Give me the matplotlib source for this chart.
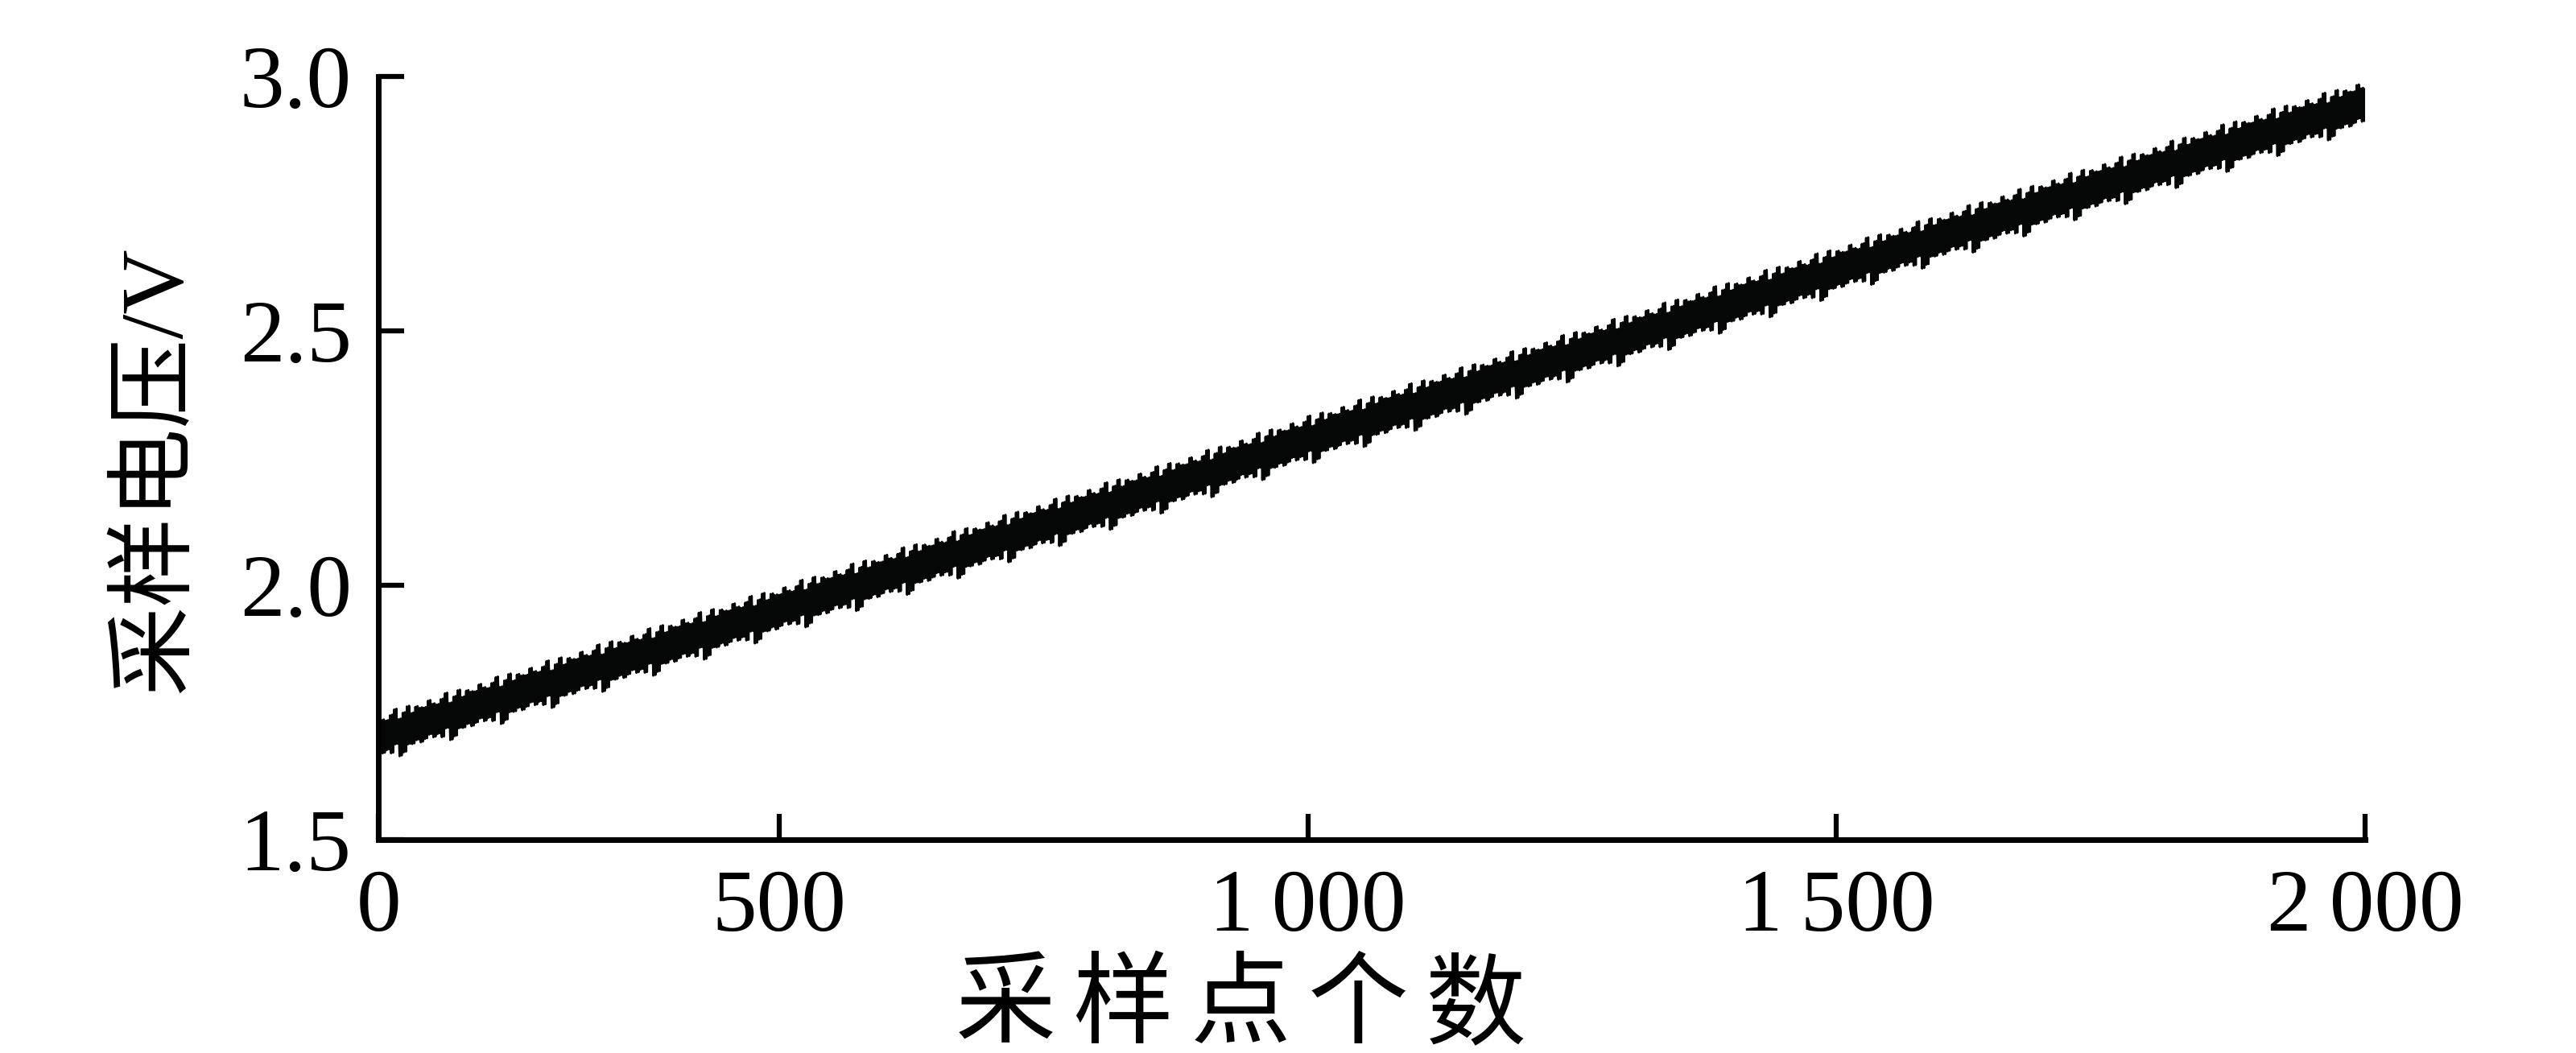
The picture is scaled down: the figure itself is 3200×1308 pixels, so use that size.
import numpy as np
import matplotlib
matplotlib.use("Agg")
import matplotlib.pyplot as plt

#==========================================================================================
#     采样电压 vs 采样点个数 (noisy ramp, ~1.7 V -> ~2.95 V)
#==========================================================================================

plt.rcParams['font.family'] = ['Liberation Serif', 'Noto Sans CJK SC', 'DejaVu Sans']

# band centre at a few sample indices
center_x = [121, 300, 500, 700, 900, 1000, 1100, 1300, 1500, 1700, 1900, 2000]
center_v = [1.700, 1.818, 1.950, 2.083, 2.216, 2.286, 2.352, 2.484, 2.618, 2.750, 2.882, 2.946]

# one ripple period (48 samples, 12 groups of 4) : upper / lower offsets from the centre, V
ripple_hi = [0.034, 0.044, 0.028, 0.038, 0.033, 0.031, 0.042, 0.033, 0.029, 0.037, 0.046, 0.024]
ripple_lo = [-0.044, -0.031, -0.033, -0.028, -0.035, -0.031, -0.025, -0.033, -0.029, -0.038, -0.023, -0.049]

x_ticks = [121, 500, 1000, 1500, 2000]
x_ticklabels = ['0', '500', '1\u2009000', '1\u2009500', '2\u2009000']
y_ticks = [1.5, 2.0, 2.5, 3.0]
y_ticklabels = ['1.5', '2.0', '2.5', '3.0']

x_label = '采样点个数'
y_label = '采样电压/V'


def build_series():
    n = np.arange(center_x[0], center_x[-1] + 1)
    base = np.interp(n, center_x, center_v)
    seg = (n % 48) // 4
    hi = np.array(ripple_hi)[seg]
    lo = np.array(ripple_lo)[seg]
    v = np.where(n % 2 == 0, base + hi, base + lo)
    return n, v


def main():
    n, v = build_series()

    fig = plt.figure(figsize=(32, 13.08), dpi=100)
    ax = fig.add_axes([0.1469, 0.2026, 0.77125, 0.7248])

    ax.plot(n, v, color='#050707', lw=2.0)

    ax.set_xlim(121, 2000)
    ax.set_ylim(1.5, 3.0)
    ax.set_xticks(x_ticks)
    ax.set_xticklabels(x_ticklabels)
    ax.set_yticks(y_ticks)
    ax.set_yticklabels(y_ticklabels)

    for s in ['top', 'right']:
        ax.spines[s].set_visible(False)
    for s in ['left', 'bottom']:
        ax.spines[s].set_linewidth(5)
        ax.spines[s].set_color('black')
        ax.spines[s].set_capstyle('projecting')

    ax.tick_params(axis='both', direction='in', length=23, width=4.5, labelsize=80, colors='black')
    ax.tick_params(axis='x', pad=26)
    ax.tick_params(axis='y', pad=24)

    # x label: characters spaced a little wider than the font's own advance, as in the source
    step = 146 / 3200
    cx = 1541 / 3200
    for i, ch in enumerate(x_label):
        fig.text(cx + (i - 2) * step, 1 - 1198 / 1308, ch, fontsize=90, ha='center', va='top')
    fig.text(195 / 3200, 1 - 583 / 1308, y_label, fontsize=80, ha='center', va='center', rotation=90)

    fig.savefig('out.png', dpi=100, facecolor='white')


if __name__ == "__main__":
    main()
